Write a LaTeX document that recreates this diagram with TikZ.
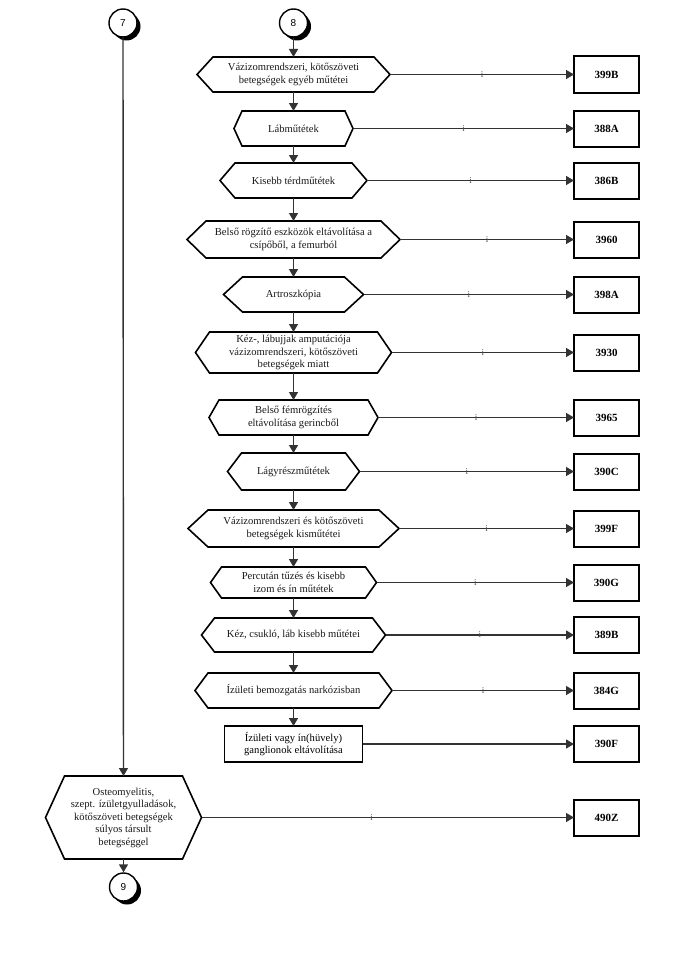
\documentclass[tikz,border=0pt]{standalone}
\usepackage{fontspec}
\setmainfont{Liberation Serif}
\newfontfamily\numfont{Liberation Sans}
\usetikzlibrary{arrows.meta,shadows}

\tikzset{
  hextext/.style={inner sep=0pt, outer sep=0pt, align=center, text=black!90, font=\fontsize{10.6}{12.5}\selectfont},
  hexline/.style={draw=black, line width=1.6pt, line join=miter},
  codebox/.style={draw=black, line width=2pt, minimum width=65pt, minimum height=36pt, inner sep=0pt, outer sep=0pt, font=\bfseries\fontsize{11}{12}\selectfont},
  rectbox/.style={draw=black, line width=1.9pt, minimum width=138pt, minimum height=36pt, inner sep=0pt, outer sep=0pt, align=center, font=\fontsize{10.6}{12.5}\selectfont},
  conn/.style={draw=black!80, line width=1.4pt, -{Triangle[length=8pt,width=9pt]}},
  ilabel/.style={font=\fontsize{9}{9}\selectfont, text=black!70, inner sep=0pt},
  conncirc/.style={circle, draw=black, line width=1.4pt, fill=white, minimum size=28pt, inner sep=0pt, font=\numfont\fontsize{10}{10}\selectfont, drop shadow={shadow xshift=3.5pt, shadow yshift=-3.5pt, fill=black, opacity=1}}
}

% #1 name, #2 cx, #3 cy, #4 total width, #5 height, #6 inset, #7 text
\newcommand{\myhex}[7]{%
  \pgfmathsetmacro\hexinner{#4-2*#6}%
  \node[hextext, minimum width=\hexinner pt, minimum height=#5pt] (#1) at (#2,-#3) {#7};
  \coordinate (#1-l) at ([xshift=-#6pt]#1.west);
  \coordinate (#1-r) at ([xshift=#6pt]#1.east);
  \draw[hexline] (#1.north west) -- (#1.north east) -- (#1-r) -- (#1.south east) -- (#1.south west) -- (#1-l) -- cycle;
}

\begin{document}
\begin{tikzpicture}[x=1pt,y=1pt]
\useasboundingbox[fill=white] (0,0) rectangle (673,-966);

% connector circles
\node[conncirc] (c7) at (123,-23) {7};
\node[conncirc] (c8) at (293.5,-23) {8};

% main column
\myhex{h1}{293.5}{74.5}{193}{35}{16}{Vázizomrendszeri, kötőszöveti\\betegségek egyéb műtétei}
\myhex{h2}{293.5}{128.5}{119}{35}{8}{Lábműtétek}
\myhex{h3}{293.5}{180.5}{147}{35}{15}{Kisebb térdműtétek}
\myhex{h4}{293.5}{239.5}{213}{37}{19}{Belső rögzítő eszközök eltávolítása a\\csípőből, a femurból}
\myhex{h5}{293.5}{294.5}{140}{35}{19}{Artroszkópia}
\myhex{h6}{293.5}{352.5}{196}{41}{14}{Kéz-, lábujjak amputációja\\vázizomrendszeri, kötőszöveti\\betegségek miatt}
\myhex{h7}{293.5}{417.5}{169}{35}{10}{Belső fémrögzítés\\eltávolítása gerincből}
\myhex{h8}{293.5}{471.5}{132}{37}{14}{Lágyrészműtétek}
\myhex{h9}{293.5}{528.5}{211}{37}{20}{Vázizomrendszeri és kötőszöveti\\betegségek kisműtétei}
\myhex{h10}{293.5}{582.5}{166}{31}{11}{Percután tűzés és kisebb\\izom és ín műtétek}
\myhex{h11}{293.5}{635}{184}{34}{13}{Kéz, csukló, láb kisebb műtétei}
\myhex{h12}{293.5}{690.5}{197}{35}{13}{Ízületi bemozgatás narkózisban}
\node[rectbox] (r13) at (293.5,-744) {Ízületi vagy ín(hüvely)\\ganglionok eltávolítása};

% left column
\myhex{h14}{123.5}{817.5}{156}{83}{19}{Osteomyelitis,\\szept. ízületgyulladások,\\kötőszöveti betegségek\\súlyos társult\\betegséggel}
\node[conncirc] (c9) at (123.5,-887) {9};

% code boxes
\node[codebox] (k1)  at (606.5,-74.5) {399B};
\node[codebox] (k2)  at (606.5,-128.5) {388A};
\node[codebox] (k3)  at (606.5,-180.5) {386B};
\node[codebox] (k4)  at (606.5,-239.5) {3960};
\node[codebox] (k5)  at (606.5,-294.5) {398A};
\node[codebox] (k6)  at (606.5,-352.5) {3930};
\node[codebox] (k7)  at (606.5,-417.5) {3965};
\node[codebox] (k8)  at (606.5,-471.5) {390C};
\node[codebox] (k9)  at (606.5,-528.5) {399F};
\node[codebox] (k10) at (606.5,-582.5) {390G};
\node[codebox] (k11) at (606.5,-635) {389B};
\node[codebox] (k12) at (606.5,-690.5) {384G};
\node[codebox] (k13) at (606.5,-744) {390F};
\node[codebox] (k14) at (606.5,-817.5) {490Z};

% vertical flow
\draw[conn] (c8) -- (h1);
\draw[conn] (h1) -- (h2);
\draw[conn] (h2) -- (h3);
\draw[conn] (h3) -- (h4);
\draw[conn] (h4) -- (h5);
\draw[conn] (h5) -- (h6);
\draw[conn] (h6) -- (h7);
\draw[conn] (h7) -- (h8);
\draw[conn] (h8) -- (h9);
\draw[conn] (h9) -- (h10);
\draw[conn] (h10) -- (h11);
\draw[conn] (h11) -- (h12);
\draw[conn] (h12) -- (r13);
\draw[conn] (c7) -- (h14);
\draw[conn] (h14) -- (c9);

% horizontal flow
\foreach \i in {1,...,12}{
  \draw[conn] (h\i-r) -- node[ilabel]{i} (k\i.west);
}
\draw[conn] (r13.east) -- (k13.west);
\draw[conn] (h14-r) -- node[ilabel,pos=0.457]{i} (k14.west);
\end{tikzpicture}
\end{document}
